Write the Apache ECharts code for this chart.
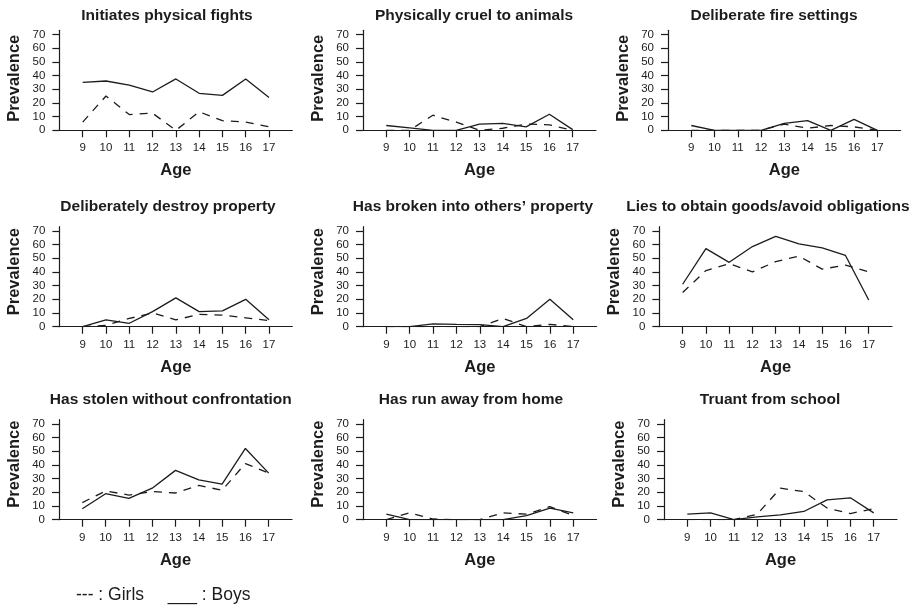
<!DOCTYPE html>
<html><head><meta charset="utf-8">
<script src="https://cdn.jsdelivr.net/npm/echarts@6/dist/echarts.min.js"></script>
<style>html,body{margin:0;padding:0;background:#fff}#c{width:920px;height:609px}</style>
</head><body><div id="c"></div>
<script>
// ---- data ----
const ages = [9, 10, 11, 12, 13, 14, 15, 16, 17];
const yTicks = [0, 10, 20, 30, 40, 50, 60, 70];
const panelTitles = [
  'Initiates physical fights', 'Physically cruel to animals', 'Deliberate fire settings',
  'Deliberately destroy property', 'Has broken into others\u2019 property', 'Lies to obtain goods/avoid obligations',
  'Has stolen without confrontation', 'Has run away from home', 'Truant from school'
];
const xAxisName = 'Age';
const yAxisName = 'Prevalence';
const legendGirls = '--- : Girls';
const legendBoys = '___ : Boys';

const fightsBoys   = [35, 36, 33, 28, 37.5, 27, 25.5, 37.5, 24];
const fightsGirls  = [6, 25, 11.5, 12.5, 0, 13.5, 7, 6, 2.5];
const animalsBoys  = [3.5, 1.8, 0, 0, 4.5, 5, 2.5, 11.7, 0.5];
const animalsGirls = [0, 0, 11, 6, 0, 1.5, 4.5, 4, 0];
const fireBoys     = [3.5, 0, 0, 0, 5, 7, 0, 8, 0];
const fireGirls    = [0, 0, 0, 0, 4.5, 1.5, 3.5, 2.5, 0];
const destroyBoys  = [0, 5, 2.5, 11, 21, 11, 11.5, 20, 5];
const destroyGirls = [0, 1, 6, 10, 5, 9, 8.5, 6.5, 4.5];
const brokenBoys   = [0, 0, 2, 1.7, 1.5, 0, 6, 20, 5];
const brokenGirls  = [0, 0, 0, 0, 0, 6, 0, 1.7, 0];
const liesBoys     = [31, 57, 47, 58.5, 66, 60.5, 57.5, 52, 19.5];
const liesGirls    = [25, 41, 46, 40, 47.5, 51.5, 42, 45, 40];
const stolenBoys   = [8, 19, 15.5, 23, 36, 29, 26, 52, 34];
const stolenGirls  = [12.5, 21, 18, 20.5, 19.5, 25, 21.5, 41, 34];
const runawayBoys  = [4, 0, 0, 0, 0, 0, 3, 8.5, 5];
const runawayGirls = [0, 5, 0.5, 0, 0, 5, 4, 9.5, 3];
const truantBoys   = [4, 5, 0, 2, 3.5, 6, 14.5, 16, 5];
const truantGirls  = [0, 0, 0, 4, 23, 20.5, 8.5, 4.5, 8];

const boysSeries  = [fightsBoys, animalsBoys, fireBoys, destroyBoys, brokenBoys, liesBoys, stolenBoys, runawayBoys, truantBoys];
const girlsSeries = [fightsGirls, animalsGirls, fireGirls, destroyGirls, brokenGirls, liesGirls, stolenGirls, runawayGirls, truantGirls];

// ---- layout (pixels) ----
const xMin = 8, xMax = 18, yMin = 0, yMax = 73;
const plotH = 100;
const rowY0 = [130.3, 326.7, 519.7];
const rowTitleY = [15.3, 206.5, 399.3];
const rowPrevY = [78.3, 271.7, 464.2];
const panelLeft  = [59.4, 363, 668, 59.4, 363, 659.4, 59, 363, 664];
const panelRight = [292.3, 596, 900.6, 292.3, 596.6, 892, 292, 596.6, 897];
const titleX = [167, 474, 774, 168, 473, 768, 170.8, 471, 770];

const FONT = '"Liberation Sans", Arial, Helvetica, sans-serif';
const INK = '#1c1c1c';

const grids = [], xAxes = [], yAxes = [], series = [], graphics = [];
for (let i = 0; i < 9; i++) {
  const row = Math.floor(i / 3);
  const y0 = rowY0[row];
  grids.push({ left: panelLeft[i], top: y0 - plotH, width: panelRight[i] - panelLeft[i], height: plotH, outerBoundsMode: 'none', containLabel: false });
  xAxes.push({
    gridIndex: i, type: 'value', min: xMin, max: xMax,
    axisLine: { show: true, onZero: false, lineStyle: { color: INK, width: 1.2 } },
    axisTick: { show: true, length: 7, customValues: ages, lineStyle: { color: INK, width: 1.2 } },
    axisLabel: { customValues: ages, margin: 12, fontSize: 11.5, color: INK, fontFamily: FONT, hideOverlap: false },
    splitLine: { show: false }
  });
  yAxes.push({
    gridIndex: i, type: 'value', min: yMin, max: yMax,
    axisLine: { show: true, onZero: false, lineStyle: { color: INK, width: 1.2 } },
    axisTick: { show: true, length: 7, customValues: yTicks, lineStyle: { color: INK, width: 1.2 } },
    axisLabel: { customValues: yTicks, margin: 14, fontSize: 11.5, color: INK, fontFamily: FONT, hideOverlap: false },
    splitLine: { show: false }
  });
  series.push({
    type: 'line', xAxisIndex: i, yAxisIndex: i, name: 'Boys', symbol: 'none', animation: false,
    data: ages.map((a, k) => [a, boysSeries[i][k]]),
    lineStyle: { color: INK, width: 1.3, type: 'solid' }
  });
  series.push({
    type: 'line', xAxisIndex: i, yAxisIndex: i, name: 'Girls', symbol: 'none', animation: false,
    data: ages.map((a, k) => [a, girlsSeries[i][k]]),
    lineStyle: { color: INK, width: 1.3, type: [8, 7] }
  });
  graphics.push({ type: 'text', x: titleX[i], y: rowTitleY[row], silent: true,
    style: { text: panelTitles[i], fill: INK, fontSize: 15.5, fontWeight: 'bold', fontFamily: FONT, align: 'center', verticalAlign: 'middle' } });
  graphics.push({ type: 'text', x: (panelLeft[i] + panelRight[i]) / 2, y: y0 + 40.6, silent: true,
    style: { text: xAxisName, fill: INK, fontSize: 16.5, fontWeight: 'bold', fontFamily: FONT, align: 'center', verticalAlign: 'middle' } });
  graphics.push({ type: 'text', x: panelLeft[i] - 44.8, y: rowPrevY[row], rotation: Math.PI / 2, silent: true,
    style: { text: yAxisName, fill: INK, fontSize: 16.5, fontWeight: 'bold', fontFamily: FONT, align: 'center', verticalAlign: 'middle' } });
}
graphics.push({ type: 'text', x: 76, y: 595.3, silent: true,
  style: { text: legendGirls, fill: INK, fontSize: 17.5, fontFamily: FONT, align: 'left', verticalAlign: 'middle' } });
graphics.push({ type: 'text', x: 167.7, y: 595.3, silent: true,
  style: { text: legendBoys, fill: INK, fontSize: 17.5, fontFamily: FONT, align: 'left', verticalAlign: 'middle' } });

const chart = echarts.init(document.getElementById('c'), null, { renderer: 'canvas' });
chart.setOption({
  backgroundColor: '#ffffff',
  animation: false,
  grid: grids, xAxis: xAxes, yAxis: yAxes, series: series, graphic: graphics
});
</script></body></html>
